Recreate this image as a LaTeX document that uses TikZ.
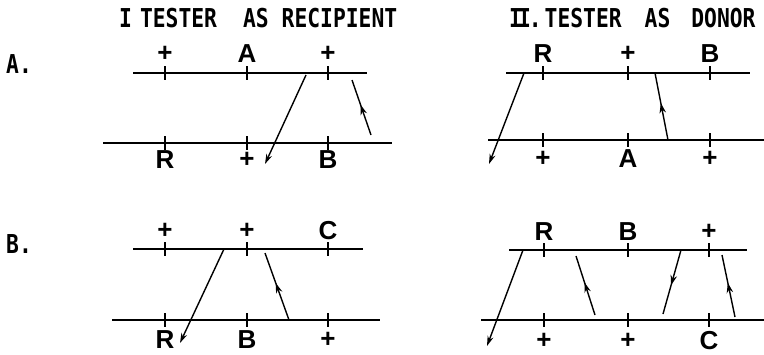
\documentclass[tikz,border=0pt]{standalone}
\usepackage{fontspec}
\setmainfont{Liberation Sans}
\newfontfamily\headfont[FakeStretch=0.82]{DejaVu Sans Mono}
\usetikzlibrary{arrows.meta, decorations.markings}

\tikzset{
    chrom/.style={line width=1.7pt},
    xfer/.style={line width=1.4pt, -{Stealth[length=10pt, width=6pt]}},
    midarrow/.style={line width=1.4pt, decoration={markings,
        mark=at position 0.55 with {\arrow{Stealth[length=10pt, width=6.5pt]}}},
        postaction={decorate}},
    lbl/.style={inner sep=0pt, font=\bfseries\fontsize{26}{26}\selectfont},
    head/.style={inner sep=0pt, anchor=west, font=\headfont\bfseries\fontsize{26}{26}\selectfont},
    row/.style={inner sep=0pt, anchor=west, font=\headfont\bfseries\fontsize{26}{26}\selectfont}
}

\begin{document}
\begin{tikzpicture}[x=1pt, y=-1pt]
    \useasboundingbox (0,0) rectangle (764,354);

    % headings
    \node[head] (headI) at (119,18) {I\hspace{8pt}TESTER\hspace{26pt}AS\hspace{13pt}RECIPIENT};
    \node[head] (headII) at (509,18) {I\kern-4pt I\kern-2pt.\hspace{3pt}TESTER\hspace{23pt}AS\hspace{21pt}DONOR};
    \node[row] (rowA) at (6,64) {A.};
    \node[row] (rowB) at (6,244) {B.};

    % I A
    \coordinate (IAtl) at (133,73);  \coordinate (IAtr) at (367,73);
    \coordinate (IAbl) at (103,143); \coordinate (IAbr) at (392,143);
    \draw[chrom] (IAtl) -- (IAtr);
    \draw[chrom] (IAbl) -- (IAbr);
    \foreach \x/\t in {165/+,247/A,328/+}
        \node[lbl] (IAu\x) at (\x,54) {\t};
    \foreach \x/\t in {165/R,247/+,328/B}
        \node[lbl] (IAd\x) at (\x,160) {\t};
    \foreach \x in {165,247,328} {
        \draw[chrom] (\x,66) -- (\x,80);
        \draw[chrom] (\x,136) -- (\x,150);
    }
    \coordinate (IAa) at (306,75);  \coordinate (IAb) at (265,164);
    \coordinate (IAc) at (371,135); \coordinate (IAd) at (352,80);
    \draw[xfer] (IAa) -- (IAb);
    \draw[midarrow] (IAc) -- (IAd);

    % II A
    \coordinate (IIAtl) at (506,73); \coordinate (IIAtr) at (750,73);
    \coordinate (IIAbl) at (488,140); \coordinate (IIAbr) at (764,140);
    \draw[chrom] (IIAtl) -- (IIAtr);
    \draw[chrom] (IIAbl) -- (IIAbr);
    \foreach \x/\t in {543/R,628/+,710/B}
        \node[lbl] (IIAu\x) at (\x,54) {\t};
    \foreach \x/\t in {543/+,628/A,710/+}
        \node[lbl] (IIAd\x) at (\x,159) {\t};
    \foreach \x in {543,628,710} {
        \draw[chrom] (\x,66) -- (\x,80);
        \draw[chrom] (\x,133) -- (\x,147);
    }
    \coordinate (IIAa) at (524,73);  \coordinate (IIAb) at (489,164);
    \coordinate (IIAc) at (668,140); \coordinate (IIAd) at (655,73);
    \draw[xfer] (IIAa) -- (IIAb);
    \draw[midarrow] (IIAc) -- (IIAd);

    % I B
    \coordinate (IBtl) at (133,249); \coordinate (IBtr) at (363,249);
    \coordinate (IBbl) at (112,320); \coordinate (IBbr) at (380,320);
    \draw[chrom] (IBtl) -- (IBtr);
    \draw[chrom] (IBbl) -- (IBbr);
    \foreach \x/\t in {165/+,247/+,328/C}
        \node[lbl] (IBu\x) at (\x,231) {\t};
    \foreach \x/\t in {165/R,247/B,328/+}
        \node[lbl] (IBd\x) at (\x,340) {\t};
    \foreach \x in {165,247,328} {
        \draw[chrom] (\x,242) -- (\x,256);
        \draw[chrom] (\x,313) -- (\x,327);
    }
    \coordinate (IBa) at (224,249); \coordinate (IBb) at (180,343);
    \coordinate (IBc) at (289,320); \coordinate (IBd) at (265,253);
    \draw[xfer] (IBa) -- (IBb);
    \draw[midarrow] (IBc) -- (IBd);

    % II B
    \coordinate (IIBtl) at (509,250); \coordinate (IIBtr) at (747,250);
    \coordinate (IIBbl) at (481,320); \coordinate (IIBbr) at (764,320);
    \draw[chrom] (IIBtl) -- (IIBtr);
    \draw[chrom] (IIBbl) -- (IIBbr);
    \foreach \x/\t in {544/R,628/B,709/+}
        \node[lbl] (IIBu\x) at (\x,232) {\t};
    \foreach \x/\t in {544/+,628/+,709/C}
        \node[lbl] (IIBd\x) at (\x,341) {\t};
    \foreach \x in {544,628,709} {
        \draw[chrom] (\x,243) -- (\x,257);
        \draw[chrom] (\x,313) -- (\x,327);
    }
    \coordinate (IIBa) at (523,250); \coordinate (IIBb) at (487,346);
    \coordinate (IIBc) at (595,315); \coordinate (IIBd) at (576,256);
    \coordinate (IIBe) at (681,250); \coordinate (IIBf) at (663,314);
    \coordinate (IIBg) at (735,317); \coordinate (IIBh) at (722,255);
    \draw[xfer] (IIBa) -- (IIBb);
    \draw[midarrow] (IIBc) -- (IIBd);
    \draw[midarrow] (IIBe) -- (IIBf);
    \draw[midarrow] (IIBg) -- (IIBh);
\end{tikzpicture}
\end{document}
